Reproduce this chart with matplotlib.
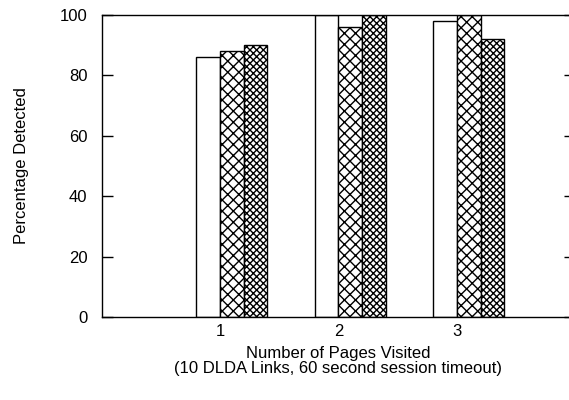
import numpy as np
import matplotlib
matplotlib.use('Agg')
import matplotlib.pyplot as plt

plt.rcParams['font.family'] = ['Liberation Sans', 'DejaVu Sans']
plt.rcParams['font.size'] = 12
plt.rcParams['hatch.linewidth'] = 1.0

pages = [1, 2, 3]
series_a = [86, 100, 98]
series_b = [88, 96, 100]
series_c = [90, 100, 92]
hatches = ['', 'xxx', 'xxxxx']
width = 0.2

fig = plt.figure(figsize=(5.69, 4.0), dpi=100)
ax = fig.add_axes([0.1784, 0.2075, 0.8330, 0.755])

x = np.array(pages, dtype=float)
for i, (vals, h) in enumerate(zip([series_a, series_b, series_c], hatches)):
    ax.bar(x + (i - 0.5) * width, vals, width, color='white',
           edgecolor='black', linewidth=1.0, hatch=h)

ax.set_xlim(0, 4)
ax.set_ylim(0, 100)
ax.set_xticks(pages)
ax.set_yticks(np.arange(0, 101, 20))
ax.tick_params(axis='x', length=0, pad=5)
ax.tick_params(axis='y', direction='in', length=8, width=1.0, right=True, pad=10)
for s in ax.spines.values():
    s.set_linewidth(1.0)

ax.set_ylabel('Percentage Detected', labelpad=22)
ax.set_xlabel('Number of Pages Visited\n(10 DLDA Links, 60 second session timeout)',
              labelpad=5, linespacing=1.05)

fig.savefig('out.png', dpi=100)
